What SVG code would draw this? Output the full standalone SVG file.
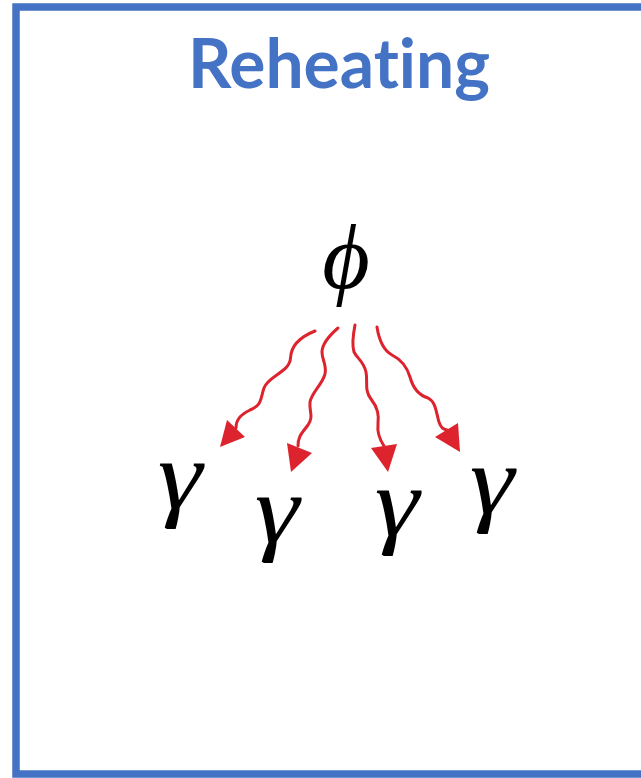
<svg xmlns="http://www.w3.org/2000/svg" width="641" height="778" viewBox="0 0 641 778">
<defs>
<style>
.title{font-family:"Lato","Open Sans",sans-serif;font-weight:bold;font-size:68px;fill:#4472c4;font-variant-ligatures:none;}
.wave{fill:none;stroke:#dc232e;stroke-width:3;stroke-linecap:round;}
.head{fill:#dc232e;}
</style>
</defs>
<rect x="0" y="0" width="641" height="778" fill="#fff"/>
<rect x="16" y="7" width="700" height="767" fill="none" stroke="#4472c4" stroke-width="7.5"/>
<g id="title"><text class="title" x="339" y="88" text-anchor="middle" textLength="302" lengthAdjust="spacingAndGlyphs">Reheating</text></g>
<g id="phi"><text font-family="Liberation Serif" font-style="italic" x="346" y="288" font-size="92" text-anchor="middle">ϕ</text></g>
<g id="gamma1" transform="matrix(1.15,0,0,1,-27,0)"><text font-family="Liberation Serif" font-style="italic" x="180" y="508" font-size="98" text-anchor="middle">γ</text></g>
<g id="gamma2" transform="matrix(1.15,0,0,1,-41.55,0)"><text font-family="Liberation Serif" font-style="italic" x="277" y="542" font-size="98" text-anchor="middle">γ</text></g>
<g id="gamma3" transform="matrix(1.15,0,0,1,-59.55,0)"><text font-family="Liberation Serif" font-style="italic" x="397" y="535" font-size="98" text-anchor="middle">γ</text></g>
<g id="gamma4" transform="matrix(1.15,0,0,1,-73.8,0)"><text font-family="Liberation Serif" font-style="italic" x="492" y="513" font-size="98" text-anchor="middle">γ</text></g>
<g id="connectors">
<path class="wave" d="M315,331 C300,337 291,345 290.5,358 C290,372 268,376 264,388 C260,400 262,405 250,410 C240,415 236,420 236,428"/>
<polygon class="head" points="227,420 245,437 220,447"/>
<path class="wave" d="M338,328 C330,335 322,343 322,352 C322,360 327,365 325,374 C322,385 312,392 310,402 C309,412 314,416 308,425 C302,433 298,436 298,446"/>
<polygon class="head" points="287,443 312,453 291,472"/>
<path class="wave" d="M355,325 C353,335 352,345 354,352 C357,358 364,362 366,372 C368,382 364,390 371,399 C378,408 379,415 378,424 C377,433 380,440 384,446"/>
<polygon class="head" points="371,448 397,444 388,472"/>
<path class="wave" d="M377,327 C379,340 383,350 392,355 C402,360 407,367 410,377 C413,388 418,395 428,398 C436,402 436,412 439,422 C441,428 443,429 447,430"/>
<polygon class="head" points="435,437 458,423 460,452"/>
</g>
</svg>
